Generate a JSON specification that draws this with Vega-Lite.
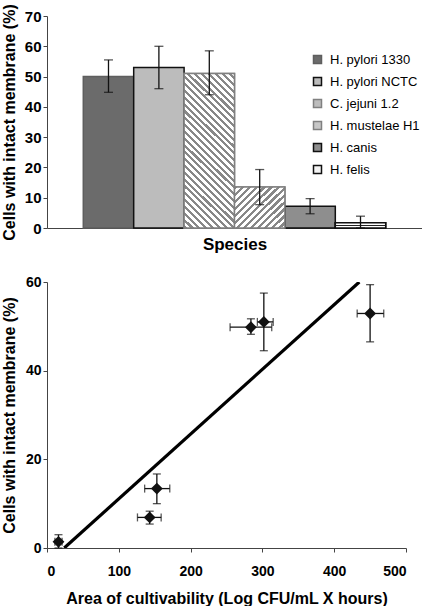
{
  "$schema": "https://vega.github.io/schema/vega-lite/v6.json",
  "padding": {"left": 1, "top": 3, "right": 0, "bottom": 0},
  "spacing": 23,
  "config": {
    "view": {"stroke": null},
    "font": "Liberation Sans",
    "axis": {
      "labelFont": "Liberation Sans", "labelFontWeight": "bold", "labelFontSize": 14, "labelColor": "#000",
      "titleFont": "Liberation Sans", "titleFontWeight": "bold", "titleFontSize": 16, "titleColor": "#000",
      "domainColor": "#444", "tickColor": "#444", "tickSize": 4, "grid": false, "labelOverlap": false
    }
  },
  "datasets": {
    "bars": [
      {"species": "H. pylori 1330", "pct": 50, "lo": 44.8, "hi": 55.5},
      {"species": "H. pylori NCTC", "pct": 53, "lo": 46, "hi": 60},
      {"species": "C. jejuni 1.2", "pct": 51, "lo": 44, "hi": 58.5},
      {"species": "H. mustelae H1", "pct": 13.5, "lo": 7.7, "hi": 19.3},
      {"species": "H. canis", "pct": 7.2, "lo": 4.7, "hi": 9.7},
      {"species": "H. felis", "pct": 1.7, "lo": 0, "hi": 3.9}
    ],
    "scatter": [
      {"species": "H. felis", "area": 16, "alo": 11, "ahi": 21, "pct": 1.4, "plo": 0, "phi": 3.0},
      {"species": "H. canis", "area": 143, "alo": 126, "ahi": 159, "pct": 6.9, "plo": 5.4, "phi": 8.3},
      {"species": "H. mustelae H1", "area": 153, "alo": 136, "ahi": 171, "pct": 13.4, "plo": 10, "phi": 16.7},
      {"species": "H. pylori 1330", "area": 284, "alo": 255, "ahi": 313, "pct": 49.8, "plo": 48.2, "phi": 51.7},
      {"species": "C. jejuni 1.2", "area": 302, "alo": 293, "ahi": 315, "pct": 51, "plo": 44.5, "phi": 57.5},
      {"species": "H. pylori NCTC", "area": 450, "alo": 432, "ahi": 469, "pct": 52.9, "plo": 46.5, "phi": 59.4}
    ],
    "trend": [
      {"area": 24, "pct": 0},
      {"area": 435, "pct": 60}
    ]
  },
  "vconcat": [
    {
      "width": 375,
      "height": 212,
      "data": {"name": "bars"},
      "encoding": {
        "x": {
          "field": "species", "type": "nominal", "title": "Species",
          "scale": {"domain": ["H. pylori 1330", "H. pylori NCTC", "C. jejuni 1.2", "H. mustelae H1", "H. canis", "H. felis"], "paddingInner": 0, "paddingOuter": 0.72},
          "axis": {"title": "Species", "labels": false, "ticks": false, "titlePadding": 8, "titleFontSize": 17}
        }
      },
      "layer": [
        {
          "mark": {"type": "bar", "strokeWidth": 1.5},
          "encoding": {
            "y": {
              "field": "pct", "type": "quantitative", "title": "Cells with intact membrane (%)",
              "scale": {"domain": [0, 70], "nice": false, "zero": false},
              "axis": {"title": "Cells with intact membrane (%)", "values": [0, 10, 20, 30, 40, 50, 60, 70], "labelFontSize": 15, "labelPadding": 2, "titlePadding": 7}
            },
            "fill": {
              "field": "species", "type": "nominal",
              "scale": {
                "domain": ["H. pylori 1330", "H. pylori NCTC", "C. jejuni 1.2", "H. mustelae H1", "H. canis", "H. felis"],
                "range": ["#6b6b6b", "#bcbcbc", "#bdbdbd", "#c6c6c6", "#8e8e8e", "#f4f4f4"]
              },
              "legend": {
                "title": null, "orient": "none", "legendX": 264, "legendY": 37,
                "symbolType": "square", "symbolSize": 64, "symbolStrokeWidth": 1.5,
                "labelFont": "Liberation Sans", "labelFontSize": 13, "labelColor": "#000",
                "labelOffset": 6, "rowPadding": 7, "padding": 0
              }
            },
            "stroke": {
              "field": "species", "type": "nominal",
              "scale": {
                "domain": ["H. pylori 1330", "H. pylori NCTC", "C. jejuni 1.2", "H. mustelae H1", "H. canis", "H. felis"],
                "range": ["#5e5e5e", "#111", "#808080", "#808080", "#111", "#111"]
              },
              "legend": {
                "title": null, "orient": "none", "legendX": 264, "legendY": 37,
                "symbolType": "square", "symbolSize": 64, "symbolStrokeWidth": 1.5,
                "labelFont": "Liberation Sans", "labelFontSize": 13, "labelColor": "#000",
                "labelOffset": 6, "rowPadding": 7, "padding": 0
              }
            }
          }
        },
        {
          "transform": [{"filter": "datum.species === 'C. jejuni 1.2'"}],
          "mark": {"type": "bar", "strokeWidth": 1.5, "stroke": "#808080",
            "fill": {"gradient": "linear", "x1": 0, "y1": 1, "x2": 0.388, "y2": -0.198, "stops": [
              {"offset": 0, "color": "#888"}, {"offset": 0.015, "color": "#888"}, {"offset": 0.015, "color": "#fff"}, {"offset": 0.0333, "color": "#fff"},
              {"offset": 0.0333, "color": "#888"}, {"offset": 0.0483, "color": "#888"}, {"offset": 0.0483, "color": "#fff"}, {"offset": 0.0667, "color": "#fff"},
              {"offset": 0.0667, "color": "#888"}, {"offset": 0.0817, "color": "#888"}, {"offset": 0.0817, "color": "#fff"}, {"offset": 0.1, "color": "#fff"},
              {"offset": 0.1, "color": "#888"}, {"offset": 0.115, "color": "#888"}, {"offset": 0.115, "color": "#fff"}, {"offset": 0.1333, "color": "#fff"},
              {"offset": 0.1333, "color": "#888"}, {"offset": 0.1483, "color": "#888"}, {"offset": 0.1483, "color": "#fff"}, {"offset": 0.1667, "color": "#fff"},
              {"offset": 0.1667, "color": "#888"}, {"offset": 0.1817, "color": "#888"}, {"offset": 0.1817, "color": "#fff"}, {"offset": 0.2, "color": "#fff"},
              {"offset": 0.2, "color": "#888"}, {"offset": 0.215, "color": "#888"}, {"offset": 0.215, "color": "#fff"}, {"offset": 0.2333, "color": "#fff"},
              {"offset": 0.2333, "color": "#888"}, {"offset": 0.2483, "color": "#888"}, {"offset": 0.2483, "color": "#fff"}, {"offset": 0.2667, "color": "#fff"},
              {"offset": 0.2667, "color": "#888"}, {"offset": 0.2817, "color": "#888"}, {"offset": 0.2817, "color": "#fff"}, {"offset": 0.3, "color": "#fff"},
              {"offset": 0.3, "color": "#888"}, {"offset": 0.315, "color": "#888"}, {"offset": 0.315, "color": "#fff"}, {"offset": 0.3333, "color": "#fff"},
              {"offset": 0.3333, "color": "#888"}, {"offset": 0.3483, "color": "#888"}, {"offset": 0.3483, "color": "#fff"}, {"offset": 0.3667, "color": "#fff"},
              {"offset": 0.3667, "color": "#888"}, {"offset": 0.3817, "color": "#888"}, {"offset": 0.3817, "color": "#fff"}, {"offset": 0.4, "color": "#fff"},
              {"offset": 0.4, "color": "#888"}, {"offset": 0.415, "color": "#888"}, {"offset": 0.415, "color": "#fff"}, {"offset": 0.4333, "color": "#fff"},
              {"offset": 0.4333, "color": "#888"}, {"offset": 0.4483, "color": "#888"}, {"offset": 0.4483, "color": "#fff"}, {"offset": 0.4667, "color": "#fff"},
              {"offset": 0.4667, "color": "#888"}, {"offset": 0.4817, "color": "#888"}, {"offset": 0.4817, "color": "#fff"}, {"offset": 0.5, "color": "#fff"},
              {"offset": 0.5, "color": "#888"}, {"offset": 0.515, "color": "#888"}, {"offset": 0.515, "color": "#fff"}, {"offset": 0.5333, "color": "#fff"},
              {"offset": 0.5333, "color": "#888"}, {"offset": 0.5483, "color": "#888"}, {"offset": 0.5483, "color": "#fff"}, {"offset": 0.5667, "color": "#fff"},
              {"offset": 0.5667, "color": "#888"}, {"offset": 0.5817, "color": "#888"}, {"offset": 0.5817, "color": "#fff"}, {"offset": 0.6, "color": "#fff"},
              {"offset": 0.6, "color": "#888"}, {"offset": 0.615, "color": "#888"}, {"offset": 0.615, "color": "#fff"}, {"offset": 0.6333, "color": "#fff"},
              {"offset": 0.6333, "color": "#888"}, {"offset": 0.6483, "color": "#888"}, {"offset": 0.6483, "color": "#fff"}, {"offset": 0.6667, "color": "#fff"},
              {"offset": 0.6667, "color": "#888"}, {"offset": 0.6817, "color": "#888"}, {"offset": 0.6817, "color": "#fff"}, {"offset": 0.7, "color": "#fff"},
              {"offset": 0.7, "color": "#888"}, {"offset": 0.715, "color": "#888"}, {"offset": 0.715, "color": "#fff"}, {"offset": 0.7333, "color": "#fff"},
              {"offset": 0.7333, "color": "#888"}, {"offset": 0.7483, "color": "#888"}, {"offset": 0.7483, "color": "#fff"}, {"offset": 0.7667, "color": "#fff"},
              {"offset": 0.7667, "color": "#888"}, {"offset": 0.7817, "color": "#888"}, {"offset": 0.7817, "color": "#fff"}, {"offset": 0.8, "color": "#fff"},
              {"offset": 0.8, "color": "#888"}, {"offset": 0.815, "color": "#888"}, {"offset": 0.815, "color": "#fff"}, {"offset": 0.8333, "color": "#fff"},
              {"offset": 0.8333, "color": "#888"}, {"offset": 0.8483, "color": "#888"}, {"offset": 0.8483, "color": "#fff"}, {"offset": 0.8667, "color": "#fff"},
              {"offset": 0.8667, "color": "#888"}, {"offset": 0.8817, "color": "#888"}, {"offset": 0.8817, "color": "#fff"}, {"offset": 0.9, "color": "#fff"},
              {"offset": 0.9, "color": "#888"}, {"offset": 0.915, "color": "#888"}, {"offset": 0.915, "color": "#fff"}, {"offset": 0.9333, "color": "#fff"},
              {"offset": 0.9333, "color": "#888"}, {"offset": 0.9483, "color": "#888"}, {"offset": 0.9483, "color": "#fff"}, {"offset": 0.9667, "color": "#fff"},
              {"offset": 0.9667, "color": "#888"}, {"offset": 0.9817, "color": "#888"}, {"offset": 0.9817, "color": "#fff"}, {"offset": 1, "color": "#fff"}
            ]}
          },
          "encoding": {
            "y": {"field": "pct", "type": "quantitative", "title": "Cells with intact membrane (%)", "scale": {"domain": [0, 70], "nice": false, "zero": false},
              "axis": {"title": "Cells with intact membrane (%)", "values": [0, 10, 20, 30, 40, 50, 60, 70], "labelFontSize": 15, "labelPadding": 2, "titlePadding": 7}}
          }
        },
        {
          "transform": [{"filter": "datum.species === 'H. mustelae H1'"}],
          "mark": {"type": "bar", "strokeWidth": 1.5, "stroke": "#808080",
            "fill": {"gradient": "linear", "x1": 0, "y1": 0, "x2": 1.086, "y2": 0.895, "stops": [
              {"offset": 0, "color": "#888"}, {"offset": 0.0346, "color": "#888"}, {"offset": 0.0346, "color": "#fff"}, {"offset": 0.0769, "color": "#fff"},
              {"offset": 0.0769, "color": "#888"}, {"offset": 0.1115, "color": "#888"}, {"offset": 0.1115, "color": "#fff"}, {"offset": 0.1538, "color": "#fff"},
              {"offset": 0.1538, "color": "#888"}, {"offset": 0.1885, "color": "#888"}, {"offset": 0.1885, "color": "#fff"}, {"offset": 0.2308, "color": "#fff"},
              {"offset": 0.2308, "color": "#888"}, {"offset": 0.2654, "color": "#888"}, {"offset": 0.2654, "color": "#fff"}, {"offset": 0.3077, "color": "#fff"},
              {"offset": 0.3077, "color": "#888"}, {"offset": 0.3423, "color": "#888"}, {"offset": 0.3423, "color": "#fff"}, {"offset": 0.3846, "color": "#fff"},
              {"offset": 0.3846, "color": "#888"}, {"offset": 0.4192, "color": "#888"}, {"offset": 0.4192, "color": "#fff"}, {"offset": 0.4615, "color": "#fff"},
              {"offset": 0.4615, "color": "#888"}, {"offset": 0.4962, "color": "#888"}, {"offset": 0.4962, "color": "#fff"}, {"offset": 0.5385, "color": "#fff"},
              {"offset": 0.5385, "color": "#888"}, {"offset": 0.5731, "color": "#888"}, {"offset": 0.5731, "color": "#fff"}, {"offset": 0.6154, "color": "#fff"},
              {"offset": 0.6154, "color": "#888"}, {"offset": 0.65, "color": "#888"}, {"offset": 0.65, "color": "#fff"}, {"offset": 0.6923, "color": "#fff"},
              {"offset": 0.6923, "color": "#888"}, {"offset": 0.7269, "color": "#888"}, {"offset": 0.7269, "color": "#fff"}, {"offset": 0.7692, "color": "#fff"},
              {"offset": 0.7692, "color": "#888"}, {"offset": 0.8038, "color": "#888"}, {"offset": 0.8038, "color": "#fff"}, {"offset": 0.8462, "color": "#fff"},
              {"offset": 0.8462, "color": "#888"}, {"offset": 0.8808, "color": "#888"}, {"offset": 0.8808, "color": "#fff"}, {"offset": 0.9231, "color": "#fff"},
              {"offset": 0.9231, "color": "#888"}, {"offset": 0.9577, "color": "#888"}, {"offset": 0.9577, "color": "#fff"}, {"offset": 1, "color": "#fff"}
            ]}
          },
          "encoding": {
            "y": {"field": "pct", "type": "quantitative", "title": "Cells with intact membrane (%)", "scale": {"domain": [0, 70], "nice": false, "zero": false},
              "axis": {"title": "Cells with intact membrane (%)", "values": [0, 10, 20, 30, 40, 50, 60, 70], "labelFontSize": 15, "labelPadding": 2, "titlePadding": 7}}
          }
        },
        {
          "transform": [{"filter": "datum.species === 'H. felis'"}],
          "mark": {"type": "bar", "strokeWidth": 1.5, "stroke": "#111",
            "fill": {"gradient": "linear", "x1": 0, "y1": 0, "x2": 0, "y2": 1, "stops": [
              {"offset": 0, "color": "#fff"}, {"offset": 0.42, "color": "#fff"}, {"offset": 0.42, "color": "#222"},
              {"offset": 0.58, "color": "#222"}, {"offset": 0.58, "color": "#fff"}, {"offset": 1, "color": "#fff"}
            ]}
          },
          "encoding": {
            "y": {"field": "pct", "type": "quantitative", "title": "Cells with intact membrane (%)", "scale": {"domain": [0, 70], "nice": false, "zero": false},
              "axis": {"title": "Cells with intact membrane (%)", "values": [0, 10, 20, 30, 40, 50, 60, 70], "labelFontSize": 15, "labelPadding": 2, "titlePadding": 7}}
          }
        },
        {
          "mark": {"type": "errorbar", "ticks": true, "size": 9, "thickness": 1.3, "color": "#111"},
          "encoding": {
            "y": {"field": "lo", "type": "quantitative", "title": "Cells with intact membrane (%)", "scale": {"domain": [0, 70], "nice": false, "zero": false},
              "axis": {"title": "Cells with intact membrane (%)", "values": [0, 10, 20, 30, 40, 50, 60, 70], "labelFontSize": 15, "labelPadding": 2, "titlePadding": 7}},
            "y2": {"field": "hi"}
          }
        }
      ]
    },
    {
      "width": 359,
      "height": 266,
      "layer": [
        {
          "data": {"name": "trend"},
          "mark": {"type": "line", "color": "#000", "strokeWidth": 3.2, "clip": true},
          "encoding": {
            "x": {"field": "area", "type": "quantitative", "title": "Area of cultivability (Log CFU/mL X hours)",
              "scale": {"domain": [0, 500], "nice": false, "zero": false},
              "axis": {"title": "Area of cultivability (Log CFU/mL X hours)", "values": [0, 100, 200, 300, 400, 500], "labelPadding": 12, "titlePadding": 12}},
            "y": {"field": "pct", "type": "quantitative", "title": "Cells with intact membrane (%)",
              "scale": {"domain": [0, 60], "nice": false, "zero": false},
              "axis": {"title": "Cells with intact membrane (%)", "values": [0, 20, 40, 60], "labelPadding": 2, "titlePadding": 8}}
          }
        },
        {
          "data": {"name": "scatter"},
          "mark": {"type": "errorbar", "ticks": true, "size": 8, "thickness": 1.3, "color": "#111"},
          "encoding": {
            "x": {"field": "area", "type": "quantitative", "title": "Area of cultivability (Log CFU/mL X hours)",
              "scale": {"domain": [0, 500], "nice": false, "zero": false},
              "axis": {"title": "Area of cultivability (Log CFU/mL X hours)", "values": [0, 100, 200, 300, 400, 500], "labelPadding": 12, "titlePadding": 12}},
            "y": {"field": "plo", "type": "quantitative", "title": "Cells with intact membrane (%)",
              "scale": {"domain": [0, 60], "nice": false, "zero": false},
              "axis": {"title": "Cells with intact membrane (%)", "values": [0, 20, 40, 60], "labelPadding": 2, "titlePadding": 8}},
            "y2": {"field": "phi"}
          }
        },
        {
          "data": {"name": "scatter"},
          "mark": {"type": "errorbar", "ticks": true, "size": 8, "thickness": 1.3, "color": "#111"},
          "encoding": {
            "y": {"field": "pct", "type": "quantitative", "title": "Cells with intact membrane (%)",
              "scale": {"domain": [0, 60], "nice": false, "zero": false},
              "axis": {"title": "Cells with intact membrane (%)", "values": [0, 20, 40, 60], "labelPadding": 2, "titlePadding": 8}},
            "x": {"field": "alo", "type": "quantitative", "title": "Area of cultivability (Log CFU/mL X hours)",
              "scale": {"domain": [0, 500], "nice": false, "zero": false},
              "axis": {"title": "Area of cultivability (Log CFU/mL X hours)", "values": [0, 100, 200, 300, 400, 500], "labelPadding": 12, "titlePadding": 12}},
            "x2": {"field": "ahi"}
          }
        },
        {
          "data": {"name": "scatter"},
          "mark": {"type": "point", "shape": "diamond", "filled": true, "size": 140, "color": "#111", "opacity": 1},
          "encoding": {
            "x": {"field": "area", "type": "quantitative", "title": "Area of cultivability (Log CFU/mL X hours)",
              "scale": {"domain": [0, 500], "nice": false, "zero": false},
              "axis": {"title": "Area of cultivability (Log CFU/mL X hours)", "values": [0, 100, 200, 300, 400, 500], "labelPadding": 12, "titlePadding": 12}},
            "y": {"field": "pct", "type": "quantitative", "title": "Cells with intact membrane (%)",
              "scale": {"domain": [0, 60], "nice": false, "zero": false},
              "axis": {"title": "Cells with intact membrane (%)", "values": [0, 20, 40, 60], "labelPadding": 2, "titlePadding": 8}}
          }
        }
      ]
    }
  ]
}
